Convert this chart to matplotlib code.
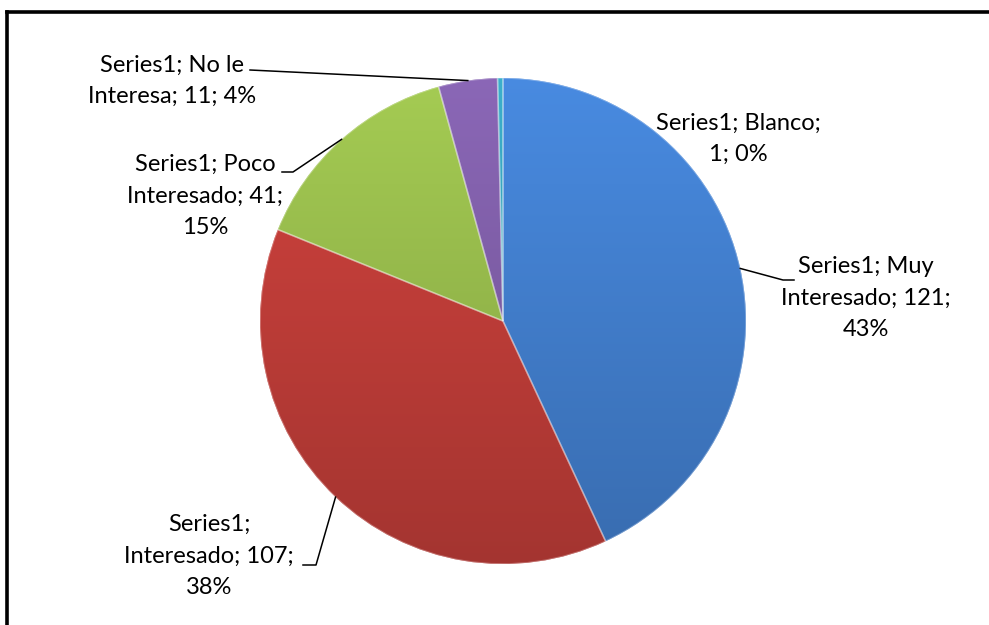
import numpy as np
import matplotlib
matplotlib.use("Agg")
import matplotlib.pyplot as plt
from matplotlib.lines import Line2D
from matplotlib.patches import Wedge
from matplotlib.colors import to_rgb

# data
categorias = ["Muy\nInteresado", "Interesado", "Poco\nInteresado", "No le\nInteresa", "Blanco"]
valores = [121, 107, 41, 11, 1]
serie = "Series1"
colores = ["#4584d6", "#c8403b", "#9dc24f", "#8462ae", "#39a7c2"]

# label texts as laid out in the reference
textos = [
    "Series1; Muy\nInteresado; 121;\n43%",
    "Series1;\nInteresado; 107;\n38%",
    "Series1; Poco\nInteresado; 41;\n15%",
    "Series1; No le\nInteresa; 11; 4%",
    "Series1; Blanco;\n1; 0%",
]

W, H = 989, 625
cx, cy, r = 503, 321, 243   # pie centre / radius in pixels

plt.rcParams['font.family'] = ['Lato', 'DejaVu Sans']

fig = plt.figure(figsize=(W / 100, H / 100), dpi=100)
ax = fig.add_axes([(cx - r) / W, (H - cy - r) / H, 2 * r / W, 2 * r / H])

wedges, _ = ax.pie(valores, colors=colores, startangle=90, counterclock=False,
                   radius=1, wedgeprops=dict(linewidth=0))

# soft vertical shading like the excel bevel style
shade = np.linspace(1.05, 0.82, 256)[:, None, None]
for w, c in zip(wedges, colores):
    img = np.clip(np.array(to_rgb(c))[None, None, :] * shade, 0, 1)
    im = ax.imshow(img, extent=(-1, 1, -1, 1), aspect='auto', zorder=2)
    im.set_clip_path(w)
    ax.add_patch(Wedge(w.center, w.r, w.theta1, w.theta2, fill=False,
                       edgecolor=(1, 1, 1, 0.3), linewidth=1.2, zorder=3))

# pie() pads the limits, put them back so radius 1 == r pixels
ax.set_xlim(-1, 1)
ax.set_ylim(-1, 1)
ax.set_aspect('equal')
ax.axis('off')


def px(x, y):
    # pixel (from top-left) -> data coords of pie axes
    return (x - cx) / r, (cy - y) / r


# label centres and leader elbows (pixels)
label_pos = [(866, 298), (209, 556), (205, 196), (172, 81), (738, 139)]
codos = [[(783, 280), (794, 280)],
         [(316, 565), (303, 565)],
         [(293, 172), (282, 172)],
         [(250, 70)],
         None]

for w, t, pos, codo in zip(wedges, textos, label_pos, codos):
    lx, ly = px(*pos)
    ax.text(lx, ly, t, ha='center', va='center', multialignment='center',
            fontsize=17, linespacing=1.6, color='black', clip_on=False, zorder=5)
    if codo is None:
        continue
    ang = np.deg2rad((w.theta1 + w.theta2) / 2)
    xs = [np.cos(ang)] + [px(*p)[0] for p in codo]
    ys = [np.sin(ang)] + [px(*p)[1] for p in codo]
    ax.plot(xs, ys, color='black', linewidth=1.1, clip_on=False, zorder=4)

# frame (left and top edges only visible)
fig.add_artist(Line2D([7 / W, 7 / W], [0, 1 - 12 / H], color='black', linewidth=2.6))
fig.add_artist(Line2D([7 / W, 1], [1 - 12 / H, 1 - 12 / H], color='black', linewidth=2.6))

fig.savefig("out.png", dpi=100)
